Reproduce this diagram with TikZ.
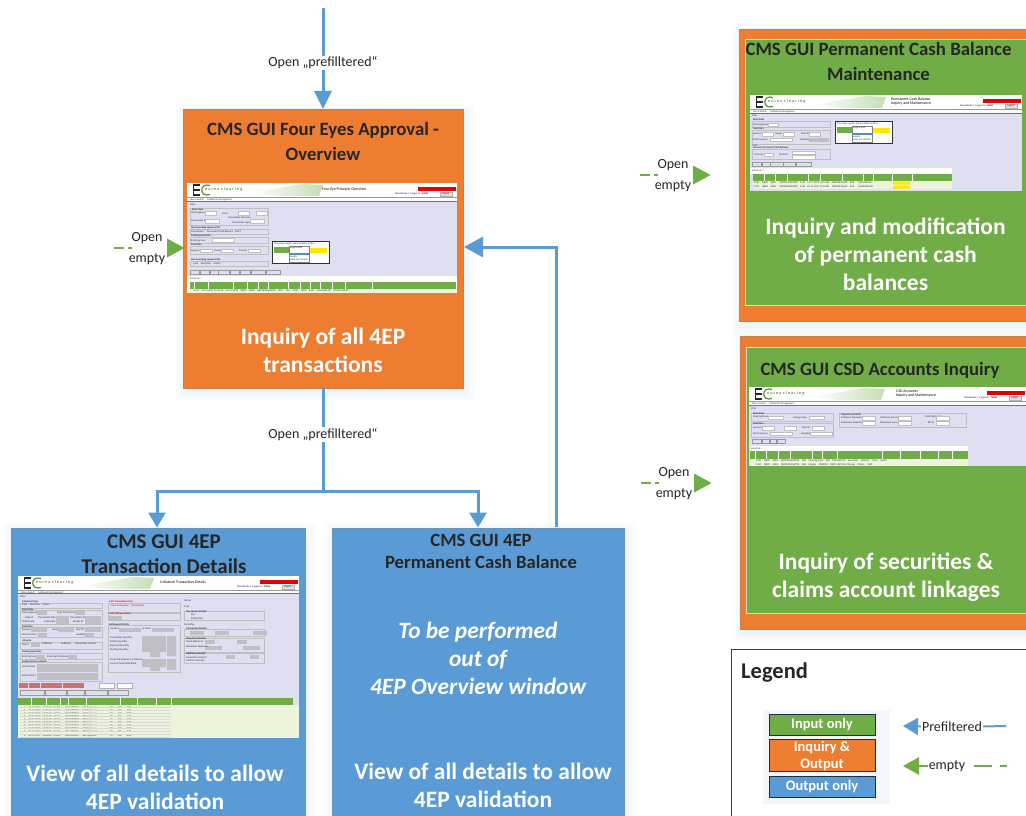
\documentclass[tikz,border=0pt]{standalone}
\usepackage{fontspec}
\setmainfont{Carlito}
\usetikzlibrary{arrows.meta}
\definecolor{cgreen}{HTML}{70AD47}
\definecolor{corange}{HTML}{ED7D31}
\definecolor{cblue}{HTML}{5B9BD5}
\definecolor{cdark}{HTML}{262626}
\definecolor{clav}{HTML}{DEDFF0}
\definecolor{cfield}{HTML}{BFBFC4}
\definecolor{cpale}{HTML}{EEF4DC}
\definecolor{cglow}{HTML}{8FB0E0}
\definecolor{cred}{HTML}{D0716B}
\newcount\tcnt
\tikzset{
  x=1pt,y=-1pt,
  card/.style={draw=#1!70!gray,line width=.6pt,fill=#1,inner sep=0pt,outer sep=0pt},
  flowblue/.style={draw=cblue,line width=3pt,-{Triangle[length=15pt,width=17pt]}},
  flowtop/.style={draw=cblue,line width=3pt,-{Triangle[length=18pt,width=17pt]}},
  flowret/.style={draw=cblue,line width=3pt,-{Triangle[length=19pt,width=20pt]}},
  plainblue/.style={draw=cblue,line width=3pt},
  flowgreen/.style={fill=cgreen},
  dashgreen/.style={draw=cgreen,line width=2.2pt},
  ttl/.style={text=cdark,font=\bfseries\fontsize{18.8}{25}\selectfont,align=center,inner sep=0pt},
  wht/.style={text=white,font=\bfseries\fontsize{23.5}{28}\selectfont,align=center,inner sep=0pt},
  lbl/.style={text=cdark,font=\fontsize{14}{21}\selectfont,align=center,inner sep=1pt},
  tinylab/.style={text=black!80,font=\fontsize{2.6}{3}\selectfont,inner sep=0pt,anchor=west},
  panel/.style={draw=black!25,line width=.3pt,fill=clav},
  fld/.style={draw=black!25,line width=.2pt,fill=white},
  gfld/.style={fill=cfield},
}
% soft glow round a box
\newcommand\glow[4]{%
  \foreach \gw/\gop in {9/.03,6/.04,3/.05}{
    \fill[cglow,opacity=\gop] (#1-\gw+2,#2-\gw+4) rectangle (#3+\gw+2,#4+\gw+4);
  }}
\newcommand\tn[3]{\global\advance\tcnt by 1 \node[tinylab,name=tn\the\tcnt] at (#1,#2) {#3};}
\newcommand\pan[4]{\path[panel] (#1,#2) rectangle (#3,#4);}
\newcommand\fields[3]{\foreach \fx in {#1}{\path[fld] (\fx,#2) rectangle ++(#3,3.4);}}
\newcommand\gfields[3]{\foreach \fx in {#1}{\path[gfld] (\fx,#2) rectangle ++(#3,4);}}
% screenshot frame: x1,y1,x2,y2, menu-line y, title, title x
\newcommand\shot[7]{%
  \fill[clav] (#1,#2) rectangle (#3,#4);
  \fill[white] (#1,#2) rectangle (#3,#5-1);
  \fill[clav!50!black] (#1,#5-1) rectangle (#3,#5-.2);
  \draw[black!40,line width=.3pt] (#1,#2+14.5) -- (#3,#2+14.5);
  % logo
  \draw[cdark,line width=1.3pt] (#1+13,#2+2) -- (#1+6.5,#2+2) -- (#1+6.5,#2+12) -- (#1+13,#2+12) (#1+6.5,#2+7) -- (#1+13,#2+7);
  \draw[cgreen!80!black,line width=1.2pt] (#1+23,#2+2.5) .. controls (#1+12,#2-1) and (#1+12,#2+15) .. (#1+23,#2+11.5);
  \global\advance\tcnt by 1
  \node[inner sep=0pt,anchor=west,text=cgreen!80!black,font=\bfseries\fontsize{4.2}{4}\selectfont\addfontfeature{LetterSpace=25},name=tn\the\tcnt] at (#1+18,#2+6.5) {eurex clearing};
  \shade[left color=white,right color=cgreen!40] (#1+63,#2+10) -- (#1+115,#2+1) -- (#1+136,#2+2) -- (#1+132,#2+13) -- (#1+90,#2+13) -- cycle;
  \global\advance\tcnt by 1
  \node[inner sep=0pt,anchor=west,text=black,align=left,font=\fontsize{3.9}{4.7}\selectfont,name=tn\the\tcnt] at (#7,#2+6.5) {#6};
  \fill[red!90!black] (#3-39,#2+4) rectangle (#3-1,#2+8);
  \tn{#3-62}{#2+11}{\textcolor{blue!60!black}{Downloads 2}\; Logged in: \textbf{ISABA}}
  \path[draw=black!30,line width=.2pt,fill=black!12] (#3-17,#2+9.5) rectangle (#3-5,#2+13);
  \tn{#3-15}{#2+11.2}{Logout}
  \tn{#1+3}{#2+16.5}{Menu Switch \quad Collateral Management}
}
\newcommand\popup[2]{%
  \path[draw=black!80,line width=.7pt,fill=white] (#1,#2) rectangle ++(57,22);
  \fill[cgreen] (#1+2,#2+6) rectangle ++(15,6);
  \fill[yellow!90!orange] (#1+38,#2+7) rectangle ++(17,5);
  \path[draw=black!50,line width=.2pt,fill=white] (#1+17,#2+5) rectangle ++(20,16);
  \fill[cblue!90!black] (#1+17,#2+12) rectangle ++(20,1.6);
  \tn{#1+2}{#2+3}{Too many results, please define a filter}
  \tn{#1+18}{#2+7}{begins with}
  \tn{#1+18}{#2+16}{equals}
  \tn{#1+18}{#2+19}{does not contain}
}
\newcommand\entry[3]{%
  \draw[dashgreen] (#1-70,#2) -- ++(10,0) (#1-56,#2) -- ++(4,0);
  \path[flowgreen] (#1+0.5,#2) -- (#1-17,#2-9.5) -- (#1-17,#2+9.5) -- cycle;
  \node[lbl,text=cdark] (#3) at (#1-37,#2+.5) {Open\\empty};
}
\begin{document}
\begin{tikzpicture}
\useasboundingbox (0,0) rectangle (1026,816);
\fill[white] (0,0) rectangle (1026,816);

% === glows ===
\glow{183}{109}{463}{388}
\glow{739}{29}{1026}{321}
\glow{740}{336}{1026}{629}
\glow{11}{528}{305}{816}
\glow{332}{528}{624}{816}

% === cards ===
\node[card=corange,minimum width=280pt,minimum height=279pt] (main) at (323,248.5) {};
\node[card=corange,minimum width=287pt,minimum height=292pt] (pcbouter) at (882.5,175) {};
\node[card=cgreen,minimum width=281pt,minimum height=266pt,draw=white!70!gray] (pcb) at (885.5,172) {};
\node[card=corange,minimum width=286pt,minimum height=293pt] (csdouter) at (883,482.5) {};
\node[card=cgreen,minimum width=280pt,minimum height=266pt,draw=white!70!gray] (csd) at (886,480) {};
\node[card=cblue,minimum width=294pt,minimum height=288pt] (det) at (158,672) {};
\node[card=cblue,minimum width=292pt,minimum height=288pt] (perm) at (478,672) {};

% === titles ===
\node[ttl] (t1) at (323,141.5) {CMS GUI Four Eyes Approval -\\Overview};
\node[ttl] (t2) at (878.5,61.5) {CMS GUI Permanent Cash Balance\\Maintenance};
\node[ttl] (t3) at (880,370.5) {CMS GUI CSD Accounts Inquiry};
\node[ttl,font=\bfseries\fontsize{21}{25}\selectfont] (t4) at (164,554) {CMS GUI 4EP\\Transaction Details};
\node[ttl,font=\bfseries\fontsize{18.7}{22}\selectfont] (t5) at (481,551) {CMS GUI 4EP\\Permanent Cash Balance};

% === white captions ===
\node[wht] (w1) at (323,350.5) {Inquiry of all 4EP\\transactions};
\node[wht] (w2) at (885.5,254) {Inquiry and modification\\of permanent cash\\balances};
\node[wht] (w3) at (886,577) {Inquiry of securities \&\\claims account linkages};
\node[wht] (w4) at (155,787) {View of all details to allow\\4EP validation};
\node[wht] (w5) at (483,785.5) {View of all details to allow\\4EP validation};
\node[wht,font=\bfseries\itshape\fontsize{23.4}{28}\selectfont] (w6) at (478,658) {To be performed\\out of\\4EP Overview window};

% === screenshot: four eyes overview ===
\shot{187}{183}{457}{293}{202}{Four Eye Principle  Overview}{322}
\tn{190}{205}{Filter}
\pan{190}{208}{268}{225}
\tn{192}{210}{\textbf{Basic Data}}\tn{191}{213}{Clearinghouse}\tn{191}{221}{Transaction ID}\tn{222}{214}{From}\tn{228}{218}{Transaction Direction}\tn{232}{223}{Transaction Type}
\fields{205,238,256}{211.5}{11}\fields{205,250}{219.5}{14}
\pan{190}{229}{268}{234}\tn{191}{227.6}{\textbf{More pending approval for:}}\tn{191}{231.6}{Transactions \;\; Permanent Cash Balance \; MWT}
\pan{190}{237}{268}{243}\tn{191}{236}{\textbf{Pending Speciality}}\tn{191}{240.5}{Entering User}\fields{212}{238.5}{22}
\pan{190}{246}{268}{254}\tn{191}{245}{\textbf{Pool Data}}\tn{191}{250.5}{Sponsor}\tn{214}{250.5}{Owner}\tn{239}{250.5}{Pool ID}\fields{200,221,248}{249}{12}
\pan{190}{261}{268}{266}\tn{191}{260}{\textbf{More pending approval for:}}\tn{193}{264}{Cash \;\; Securities \;\; Claims}
\popup{272}{241}
\foreach \bx/\bw in {190/9,200/9,210/8,218/11,230/9,240/10,251/14,266/14}{\path[draw=black!40,line width=.2pt,fill=clav] (\bx,270) rectangle ++(\bw,4.5);}
\fill[white] (187,276) rectangle (457,293);
\tn{190}{279}{Selected: \textcolor{orange}{0}}
\fill[cgreen] (190,282) rectangle (456,289);
\foreach \cx in {194,208,233,247,258,268,288,300,310,320,332,345,372}{\draw[white,line width=.2pt] (\cx,282) -- (\cx,289);}
\fill[cpale] (190,289) rectangle (456,293);
\tn{191}{291}{\quad 0141 \;\; 12.11.2017 10:10:46 \;\; 25.01.2018 \;\; QB09 \;\; QB09 \;\; QBCFB23QSAP90 \;\; MEV \;\; TRX \;\; CASH \;\; QD9S \;\; EUR \;\;\; 5.000,000.00 \;\; 25.000.000,00}

% === screenshot: permanent cash balance ===
\shot{750}{95}{1022}{191}{114}{Permanent Cash Balance\\Inquiry and Maintenance}{891}
\tn{752}{116}{Filter}
\pan{752}{121}{830}{127}\tn{753}{120}{\textbf{Bank Data}}\tn{753}{124.5}{Clearinghouse}\fields{768}{123}{10}
\pan{752}{130}{830}{144}\tn{753}{129}{\textbf{Pool Data}}\tn{753}{134}{Sponsor}\tn{775}{134}{Owner}\tn{801}{134}{Pool ID}\tn{753}{139.5}{Pool Currency}\tn{800}{139.5}{Liquidity}\fields{762,783,809}{132.5}{11}\fields{770}{138}{22}\path[fill=black!25] (809,137.5) rectangle ++(20,4.5);
\popup{835}{121}
\tn{752}{146}{Cash}
\pan{752}{149}{830}{159}\tn{753}{148}{\textbf{Current Permanent Cash Balance}}\tn{754}{155}{Currency}\tn{779}{155}{Amount}\fields{764}{153}{9}\fields{792}{151}{23}\fields{792}{155.5}{23}
\foreach \bx/\bw in {752/9,762/8,770/13,783/12,796/15}{\path[draw=black!40,line width=.2pt,fill=clav] (\bx,162) rectangle ++(\bw,4.5);}
\fill[white] (750,168) rectangle (952,174);
\tn{752}{171}{Selected: \textcolor{orange}{0}}
\fill[cgreen] (753,174) rectangle (952,181);
\foreach \cx in {764,775,787,808,820,842,863,873,892,912}{\draw[white,line width=.2pt] (\cx,174) -- (\cx,181);}
\fill[cpale] (753,181) rectangle (952,189);
\fill[yellow!90!orange] (893,181.5) rectangle (910,184.5) (893,185.5) rectangle (910,188.5);
\tn{754}{183}{0141 \;\; QB09 \;\; QB09 \;\;\; QBCFB23QSAP90 \;\; EUR \;\; 01.11.2017 10:33:00 \;\; QBCFB23QSAP \;\; EUR \;\;\; 5.000,000.00}
\tn{754}{187}{0141 \;\; QB09 \;\; QB09 \;\;\; QBCFB23QSAP90 \;\; EUR \;\; 01.11.2017 10:33:00 \;\; QBCFB23QSAP \;\; EUR \;\;\; 15.000,000.00}

% === screenshot: CSD accounts ===
\shot{749}{387}{1026}{466}{406}{CSD Accounts\\Inquiry and Maintenance}{896}
\tn{751}{409}{Filter}
\pan{751}{413}{833}{421}\tn{753}{413.8}{\textbf{Bank Data}}\tn{753}{417}{Clearinghouse}\tn{793}{418}{Linkage Type}\fields{768,809}{416}{15}
\pan{751}{423}{833}{437}\tn{753}{424}{\textbf{Pool Data}}\tn{753}{428}{Sponsor}\tn{784}{428}{Owner}\tn{802}{428}{Pool ID}\tn{753}{433.5}{Pool Currency}\tn{801}{433.5}{Liquidity}\fields{762,784,812}{426.5}{12}\fields{770,810}{432}{22}
\pan{839}{413}{966}{427}\tn{841}{414.5}{\textbf{Depository Details}}\tn{841}{418}{Collateral Depositor}\tn{880}{418}{Collateral Account}\tn{841}{423}{Stateliness Depositor}\tn{880}{423}{Stateliness Account}\tn{925}{417}{Client Reference}\tn{928}{423}{BP ID}\fields{862,898,936}{416.5}{13}\fields{862,898,936}{421.5}{13}
\foreach \bx/\bw in {752/9,762/7,770/6,777/8}{\path[draw=black!40,line width=.2pt,fill=clav] (\bx,439) rectangle ++(\bw,4.5);}
\fill[white] (750,446) rectangle (968,451);
\tn{751}{448.5}{Selected: \textcolor{orange}{0}}
\fill[cgreen] (750,451) rectangle (968,459);
\foreach \cx in {755,766,778,790,812,822,837,882,900,920,938,952}{\draw[white,line width=.2pt] (\cx,451) -- (\cx,459);}
\fill[cpale] (750,459) rectangle (968,466);
\tn{756}{461}{0141 \;\; QB09 \;\; QB09 \;\; QBCFB23QSAP90 \;\; EUR \;\; Clearing Fund \;\; D01 \;\; DEE DEE Ltd \;\; Securities \;\; AB1234 \;\;\; Clear \;\; 54321}
\tn{756}{464.5}{0141 \;\; QB09 \;\; QB09 \;\; QBCFB23QSAP90 \;\; EUR \;\; Margin \;\; 0000004 \;\; BROC. BP Paris Chicago \;\; Claims \;\; 2345}

% === screenshot: transaction details ===
\shot{18}{576}{299}{738}{594}{Collateral Transaction  Details}{160}
\tn{20}{597}{Filter}
\pan{20}{603}{102}{608}\tn{22}{601.5}{\textbf{Collateral Type}}\tn{22}{605}{Cash \;\; Securities \;\; Claims}
\pan{20}{610}{102}{624}\tn{22}{609.5}{\textbf{Bank Data}}\tn{22}{613}{Clearinghouse}\tn{25}{618}{Deposit}\tn{22}{622}{Withdrawal}\tn{57}{613}{Type Transaction}\tn{38}{618}{Transaction Date}\tn{44}{622}{Value Date}\tn{70}{618}{Transaction ID}\tn{73}{622}{Bucket ID}
\gfields{37,75}{611}{10}\gfields{56}{616}{13}\gfields{56}{620}{13}\gfields{85}{616}{16}\gfields{85}{620}{16}
\pan{20}{627}{102}{637}\tn{22}{626.5}{\textbf{Pool Data}}\tn{22}{630}{Sponsor}\tn{22}{635}{Pool Currency}\tn{52}{630}{Owner}\tn{76}{630}{Pool ID}\tn{76}{635}{Liquidity}\gfields{31,58,85}{628}{16}\gfields{38,85}{633}{9}
\pan{20}{642}{102}{649}\tn{22}{640.5}{\textbf{Lifecycle}}\tn{22}{645}{Status}\gfields{31}{643}{9}\tn{42}{644}{Sufficient}\tn{61}{644}{Sufficient}\tn{75}{644}{Transaction amount}
\pan{20}{653}{102}{659}\tn{22}{652}{\textbf{Pending Speciality}}\tn{22}{656.5}{Entering User}\tn{47}{656.5}{Entering Participant}\gfields{36,68}{654.5}{9}
\pan{20}{662}{102}{681}\tn{22}{661.5}{\textbf{Supplementary Details}}\tn{22}{667}{Internal Text}\tn{22}{676}{External Text}\path[gfld] (37,664) rectangle (98,672) (37,673) rectangle (98,680);
\foreach \bx/\bw in {19/9,29/11,41/11,52/10,63/21}{\fill[cred] (\bx,683) rectangle ++(\bw,5);}
\foreach \bx in {99,117}{\path[draw=black!30,line width=.2pt,fill=white] (\bx,683) rectangle ++(15,5);}
\foreach \bx/\bw in {20/24,45/21,67/17,85/22,108/20}{\path[draw=black!40,line width=.2pt,fill=clav] (\bx,690) rectangle ++(\bw,5);}
\pan{108}{603}{180}{612}\tn{109}{601.5}{\textcolor{red}{\textbf{4-EP Transaction Class}}}\tn{111}{606}{\textcolor{red}{New Transaction \;\; Cancellation}}
\pan{108}{613}{180}{620}\tn{109}{613.5}{\textcolor{red}{\textbf{4-EP 3rd Eyes Action}}}\gfields{109}{615.5}{13}
\pan{108}{625}{180}{672}\tn{109}{625}{\textbf{Settlement Details}}\tn{110}{629}{Location}\tn{142}{629}{Account}\gfields{119,152}{627.5}{22}
\tn{110}{638}{Transaction Quantity}\tn{110}{642}{Settled Quantity}\tn{110}{646}{Rejected Quantity}\tn{110}{650}{Pending Quantity}\tn{110}{660}{Projected Deposit or Collateral}\tn{110}{664}{Current Quota Ellectified}
\path[gfld] (142,636) rectangle (166,652) (167,636) rectangle (176,656) (142,659) rectangle (166,667) (167,659) rectangle (176,670) (150,652) rectangle (160,657) (150,667) rectangle (160,671);
\tn{184}{601}{Claims}\tn{184}{607}{Cash}
\pan{184}{611}{264}{620}\tn{186}{611.5}{\textbf{Transaction Details}}\tn{191}{615}{Rec}\tn{191}{618.5}{Redirected}
\tn{184}{625}{Securities}
\pan{184}{629}{264}{636}\tn{186}{629}{\textbf{Transaction Details}}\gfields{190,215,253}{631}{14}
\pan{184}{638}{264}{652}\tn{186}{638.5}{\textbf{Depository Details}}\tn{186}{642}{Client Reference}\gfields{205,237}{640}{10}\gfields{205,243}{645.5}{17}\tn{186}{647}{Stateliness Depositor}
\pan{184}{653}{264}{663}\tn{186}{653.5}{\textbf{Additional Details}}\tn{186}{658}{Instruction remains}\tn{186}{661}{valid for next day}\gfields{226,250}{655}{9}
\fill[cgreen] (18,698) rectangle (293,705);
\foreach \cx in {31,46,60,68,86,120,137,156,171}{\draw[white,line width=.2pt] (\cx,698) -- (\cx,705);}
\fill[cpale] (18,705) rectangle (299,738);
\foreach \ry in {707.5,710.6,713.7,716.8,719.9,723,726.1,729.2,732.3,735.4}{
  \tn{24}{\ry}{0 \quad 08.12.2017 \; 10:00:00 \; UMU3 \quad\; QMU2PROD1 \quad SBP Approval \qquad\qquad\quad  F0 \quad\;\; 120 \quad\;\; EUR}
}
\foreach \hy in {707,710,713,716,719,722,725,728,731,734,737}{\draw[black!15,line width=.15pt] (20,\hy) -- (171,\hy);}

% === legend ===
\node[draw=black!75,line width=.7pt,fill=white,minimum width=300pt,minimum height=175pt,inner sep=0pt] (legend) at (881,736.5) {};
\node[text=cdark,font=\bfseries\fontsize{22.5}{25}\selectfont,inner sep=0pt,anchor=west] (legtitle) at (741,673) {Legend};
\fill[cglow,opacity=.10] (763,710) rectangle (890,804);
\tikzset{lgd/.style={draw=black!70!cblue,line width=.9pt,minimum width=106pt,inner sep=0pt,text=white,font=\bfseries\fontsize{14.5}{17}\selectfont,align=center}}
\node[lgd,fill=cgreen,minimum height=21pt,text height=10pt,text depth=3pt] (lgreen) at (822,725) {Input only};
\node[lgd,fill=corange,minimum height=32pt,text depth=1pt] (lorange) at (822,755) {Inquiry \&\\Output};
\node[lgd,fill=cblue,minimum height=21pt,text height=10pt,text depth=3pt] (lblue) at (822,787) {Output only};
\node[lbl] (lpre) at (952,726.5) {Prefiltered};
\node[lbl] (lemp) at (947,766) {empty};
\coordinate (lpretip) at (903,726);
\coordinate (lemptip) at (903,766);
\coordinate (lpreend) at (1006,726);
\coordinate (lempA) at (974,766);\coordinate (lempB) at (992,766);\coordinate (lempC) at (1000,766);\coordinate (lempD) at (1007,766);
\draw[plainblue,line width=2pt] (lpre.east) -- (lpreend);
\draw[flowblue,line width=2pt] (lpre.west) -- (lpretip);
\draw[dashgreen,-{Triangle[length=16pt,width=17pt]},color=cgreen] (lemp.west) -- (lemptip);
\draw[dashgreen] (lempA) -- (lempB) (lempC) -- (lempD);

% === blue connectors ===
\coordinate (topin) at (323,8);
\coordinate (split) at (323,491);
\coordinate (spL) at (157,491);
\coordinate (spR) at (478,491);
\coordinate (retA) at (556,527);
\coordinate (retB) at (556,247);
\coordinate (retC) at (464,247);
\draw[flowtop] (topin) -- (main.north);
\draw[plainblue] (main.south) -- (split);
\draw[plainblue,line cap=rect] (spL) -- (spR);
\draw[flowblue] (spL) -- (157,527.5);
\draw[flowblue] (spR) -- (478,527.5);
\draw[flowret] (retA) -- (retB) -- (retC);
\node[lbl,fill=white] (lab1) at (323,63) {Open „prefilltered“};
\node[lbl,fill=white] (lab2) at (323,434.5) {Open „prefilltered“};

% === green entries ===
\entry{184}{248}{en1}
\entry{710}{175}{en2}
\entry{711}{483}{en3}
\end{tikzpicture}
\end{document}
